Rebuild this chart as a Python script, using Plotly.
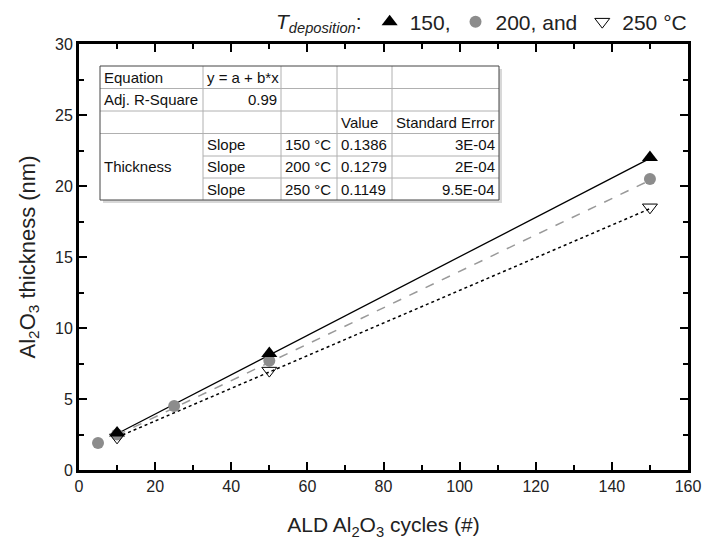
import plotly.graph_objects as go

# ---------------- data ----------------
x150 = [10, 50, 150]
y150 = [2.6, 8.2, 22.0]
x200 = [5, 10, 25, 50, 150]
y200 = [1.9, 2.5, 4.5, 7.7, 20.5]
x250 = [10, 50, 150]
y250 = [2.3, 7.0, 18.5]

# linear fit lines (end points)
fit_x = [10, 150]
fit150 = [2.55, 21.95]
fit200 = [2.45, 20.4]
fit250 = [2.3, 18.4]

legend_names = ["150,", "200, and", "250 °C"]

table_rows = [
    ["Equation", "y = a + b*x", "", "", ""],
    ["Adj. R-Square", "0.99", "", "", ""],
    ["", "", "", "Value", "Standard Error"],
    ["Thickness", "Slope", "150 °C", "0.1386", "3E-04"],
    ["", "Slope", "200 °C", "0.1279", "2E-04"],
    ["", "Slope", "250 °C", "0.1149", "9.5E-04"],
]

FONT = "Liberation Sans, Arial, sans-serif"
W, H = 703, 542
L, R, T, B = 79, 15, 44, 72
PW, PH = W - L - R, H - T - B


def px(xp):
    return (xp - L) / PW


def py(yp):
    return (H - B - yp) / PH


fig = go.Figure()

# fit lines
fig.add_trace(go.Scatter(x=fit_x, y=fit150, mode="lines", showlegend=False,
                         line=dict(color="black", width=1.3)))
fig.add_trace(go.Scatter(x=fit_x, y=fit200, mode="lines", showlegend=False,
                         line=dict(color="#999999", width=1.5, dash="dash")))
fig.add_trace(go.Scatter(x=fit_x, y=fit250, mode="lines", showlegend=False,
                         line=dict(color="black", width=1.5, dash="dot")))

# markers
fig.add_trace(go.Scatter(x=x200, y=y200, mode="markers", name=legend_names[1],
                         marker=dict(symbol="circle", size=12, color="#8c8c8c"), legendrank=2))
fig.add_trace(go.Scatter(x=x250, y=y250, mode="markers", name=legend_names[2],
                         marker=dict(symbol="triangle-down-open", size=13, color="black",
                                     line=dict(width=1)), legendrank=3))
fig.add_trace(go.Scatter(x=x150, y=y150, mode="markers", name=legend_names[0],
                         marker=dict(symbol="triangle-up", size=14, color="black"), legendrank=1))

# ---------------- table ----------------
cols = [100, 203, 281, 337, 392, 499]
rows = [66, 88.5, 111, 133.5, 156, 178, 200]
shapes = []
grid = dict(color="#b0b0b0", width=1)
# shadow
shapes.append(dict(type="rect", xref="paper", yref="paper",
                   x0=px(cols[0] + 3), x1=px(cols[-1] + 3), y0=py(rows[-1] + 3), y1=py(rows[0] + 3),
                   line=dict(width=0), fillcolor="#d8d8d8", layer="above"))
shapes.append(dict(type="rect", xref="paper", yref="paper",
                   x0=px(cols[0]), x1=px(cols[-1]), y0=py(rows[-1]), y1=py(rows[0]),
                   line=dict(width=0), fillcolor="white", layer="above"))
# vertical inner lines
for c in cols[1:-1]:
    shapes.append(dict(type="line", xref="paper", yref="paper", x0=px(c), x1=px(c),
                       y0=py(rows[0]), y1=py(rows[-1]), line=grid, layer="above"))
# horizontal inner lines
for i, r in enumerate(rows[1:-1], start=1):
    x0 = cols[0] if i <= 3 else cols[1]
    shapes.append(dict(type="line", xref="paper", yref="paper", x0=px(x0), x1=px(cols[-1]),
                       y0=py(r), y1=py(r), line=grid, layer="above"))
# outer border
shapes.append(dict(type="rect", xref="paper", yref="paper",
                   x0=px(cols[0]), x1=px(cols[-1]), y0=py(rows[-1]), y1=py(rows[0]),
                   line=dict(color="#444444", width=1), layer="above"))

annotations = []
right_align = {(1, 1), (3, 4), (4, 4), (5, 4)}
for ri, row in enumerate(table_rows):
    for ci, txt in enumerate(row):
        if not txt:
            continue
        if ci == 0 and txt == "Thickness":
            yc = (rows[3] + rows[6]) / 2
        else:
            yc = (rows[ri] + rows[ri + 1]) / 2
        if (ri, ci) in right_align:
            xa, xx = "right", cols[ci + 1] - 2
        else:
            xa, xx = "left", cols[ci] + 2
        annotations.append(dict(text=txt, x=px(xx), y=py(yc), xref="paper", yref="paper",
                                xanchor=xa, yanchor="middle", showarrow=False,
                                font=dict(family=FONT, size=15, color="#111111")))

axis_common = dict(
    showline=True, linecolor="black", linewidth=3, mirror="allticks",
    ticks="inside", ticklen=8, tickwidth=2, tickcolor="black",
    showgrid=False, zeroline=False, automargin=False,
    tickfont=dict(family=FONT, size=16, color="#222222"),
)

fig.update_layout(
    width=W, height=H,
    margin=dict(l=L, r=R, t=T, b=B, autoexpand=False),
    paper_bgcolor="white", plot_bgcolor="white",
    font=dict(family=FONT, color="#222222"),
    xaxis=dict(range=[0, 160], dtick=20, tick0=0,
               minor=dict(ticks="inside", ticklen=5, tickwidth=2, tickcolor="black", dtick=10),
               title=dict(text="ALD Al<sub>2</sub>O<sub>3</sub> cycles (#)",
                          font=dict(family=FONT, size=21, color="#222222"), standoff=24),
               **axis_common),
    yaxis=dict(range=[0, 30], dtick=5, tick0=0,
               minor=dict(ticks="inside", ticklen=5, tickwidth=2, tickcolor="black", dtick=2.5),
               title=dict(text="Al<sub>2</sub>O<sub>3</sub> thickness (nm)",
                          font=dict(family=FONT, size=22, color="#222222"), standoff=14),
               **axis_common),
    legend=dict(orientation="h", x=px(692), xanchor="right", y=py(22), yanchor="middle",
                title=dict(text="<i>T</i><sub><i>deposition</i></sub>:", side="left",
                           font=dict(family=FONT, size=21, color="#222222")),
                font=dict(family=FONT, size=21, color="#222222"),
                bgcolor="rgba(0,0,0,0)", itemwidth=30, tracegroupgap=0),
    shapes=shapes,
    annotations=annotations,
)

fig.write_html("out.html")
